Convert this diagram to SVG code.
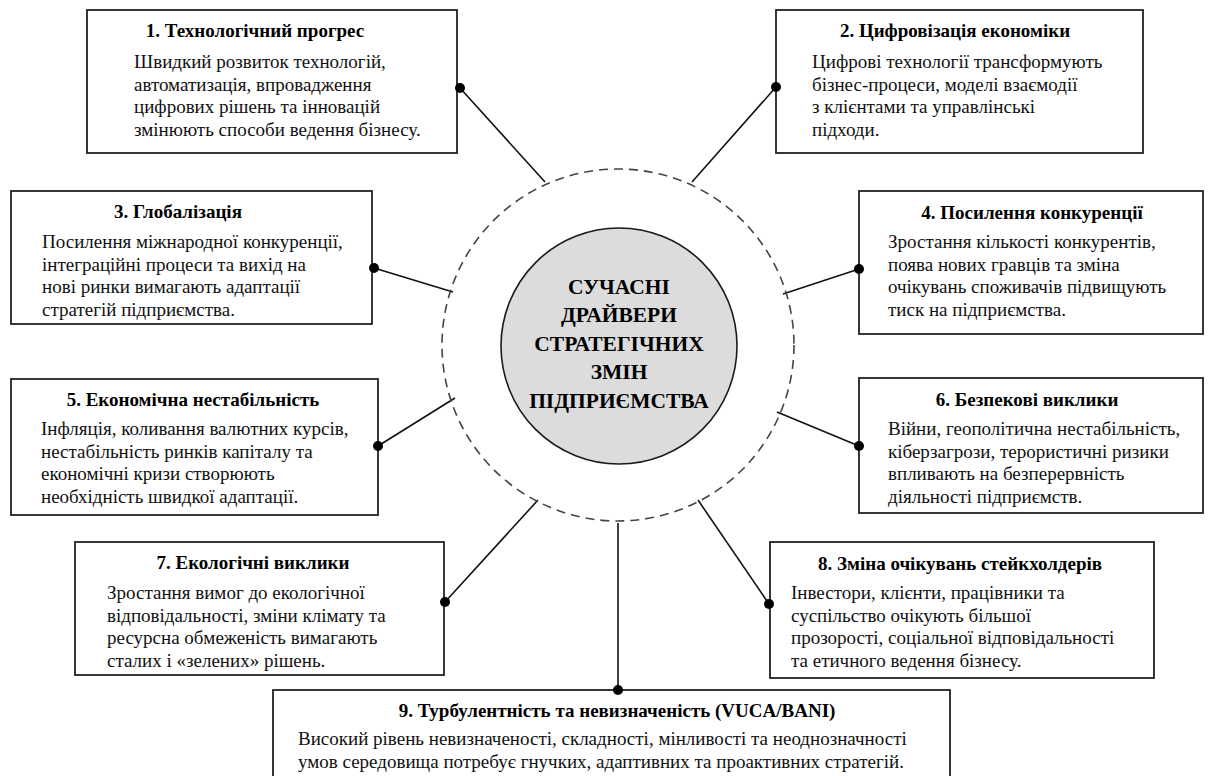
<svg xmlns="http://www.w3.org/2000/svg" width="1214" height="776" viewBox="0 0 1214 776">
<style>
.box{fill:#ffffff;stroke:#222;stroke-width:1.8}
.t{font-family:'Liberation Serif','Times New Roman','DejaVu Serif',serif;font-size:19px;font-weight:bold;fill:#000;text-anchor:middle}
.b{font-family:'Liberation Serif','Times New Roman','DejaVu Serif',serif;font-size:19px;fill:#111}
.c{font-family:'Liberation Serif','Times New Roman','DejaVu Serif',serif;font-size:21.5px;font-weight:bold;fill:#000;text-anchor:middle}
.ln{stroke:#111;stroke-width:1.6;fill:none}
.dot{fill:#000}
</style>
<rect width="1214" height="776" fill="#ffffff"/>
<g id="connectors">
<line class="ln" x1="460" y1="88" x2="545" y2="182"/>
<line class="ln" x1="776" y1="87" x2="692" y2="182"/>
<line class="ln" x1="374" y1="268" x2="453" y2="292"/>
<line class="ln" x1="859" y1="269" x2="783" y2="294"/>
<line class="ln" x1="378" y1="446" x2="455" y2="398"/>
<line class="ln" x1="859" y1="446" x2="777" y2="412"/>
<line class="ln" x1="445" y1="602" x2="538" y2="500"/>
<line class="ln" x1="769" y1="604" x2="698" y2="500"/>
<line class="ln" x1="618" y1="690" x2="618" y2="523"/>
</g>
<g id="center">
<circle cx="618" cy="345" r="176" fill="none" stroke="#444" stroke-width="1.6" stroke-dasharray="9 6"/>
<circle cx="619" cy="346" r="118" fill="#dcdcdc" stroke="#1a1a1a" stroke-width="1.6"/>
<text class="c" x="619" y="294">СУЧАСНІ</text>
<text class="c" x="619" y="322">ДРАЙВЕРИ</text>
<text class="c" x="619" y="351">СТРАТЕГІЧНИХ</text>
<text class="c" x="619" y="379">ЗМІН</text>
<text class="c" x="619" y="408">ПІДПРИЄМСТВА</text>
</g>
<g id="node1">
<rect class="box" x="87" y="10" width="370" height="143"/>
<text class="t" x="255" y="37">1. Технологічний прогрес</text>
<text class="b" x="134" y="68">Швидкий розвиток технологій,</text>
<text class="b" x="134" y="90.5">автоматизація, впровадження</text>
<text class="b" x="134" y="113">цифрових рішень та інновацій</text>
<text class="b" x="134" y="135.5">змінюють способи ведення бізнесу.</text>
<circle class="dot" cx="460" cy="88" r="5"/>
</g>
<g id="node2">
<rect class="box" x="776" y="10" width="367" height="143"/>
<text class="t" x="955" y="37">2. Цифровізація економіки</text>
<text class="b" x="812" y="68">Цифрові технології трансформують</text>
<text class="b" x="812" y="90.5">бізнес-процеси, моделі взаємодії</text>
<text class="b" x="812" y="113">з клієнтами та управлінські</text>
<text class="b" x="812" y="135.5">підходи.</text>
<circle class="dot" cx="776" cy="87" r="5"/>
</g>
<g id="node3">
<rect class="box" x="11" y="191" width="361" height="133"/>
<text class="t" x="178" y="218">3. Глобалізація</text>
<text class="b" x="42" y="248">Посилення міжнародної конкуренції,</text>
<text class="b" x="42" y="270.5">інтеграційні процеси та вихід на</text>
<text class="b" x="42" y="293">нові ринки вимагають адаптації</text>
<text class="b" x="42" y="315.5">стратегій підприємства.</text>
<circle class="dot" cx="374" cy="268" r="5"/>
</g>
<g id="node4">
<rect class="box" x="859" y="191" width="344" height="143"/>
<text class="t" x="1032" y="219">4. Посилення конкуренції</text>
<text class="b" x="888" y="248">Зростання кількості конкурентів,</text>
<text class="b" x="888" y="270.5">поява нових гравців та зміна</text>
<text class="b" x="888" y="293">очікувань споживачів підвищують</text>
<text class="b" x="888" y="315.5">тиск на підприємства.</text>
<circle class="dot" cx="859" cy="269" r="5"/>
</g>
<g id="node5">
<rect class="box" x="11" y="379" width="367" height="136"/>
<text class="t" x="193" y="406">5. Економічна нестабільність</text>
<text class="b" x="41" y="435">Інфляція, коливання валютних курсів,</text>
<text class="b" x="41" y="457.5">нестабільність ринків капіталу та</text>
<text class="b" x="41" y="480">економічні кризи створюють</text>
<text class="b" x="41" y="502.5">необхідність швидкої адаптації.</text>
<circle class="dot" cx="378" cy="446" r="5"/>
</g>
<g id="node6">
<rect class="box" x="859" y="378" width="344" height="135"/>
<text class="t" x="1027" y="406">6. Безпекові виклики</text>
<text class="b" x="888" y="435">Війни, геополітична нестабільність,</text>
<text class="b" x="888" y="457.5">кіберзагрози, терористичні ризики</text>
<text class="b" x="888" y="480">впливають на безперервність</text>
<text class="b" x="888" y="502.5">діяльності підприємств.</text>
<circle class="dot" cx="859" cy="446" r="5"/>
</g>
<g id="node7">
<rect class="box" x="75" y="542" width="369" height="133"/>
<text class="t" x="253" y="569">7. Екологічні виклики</text>
<text class="b" x="107" y="599">Зростання вимог до екологічної</text>
<text class="b" x="107" y="621.5">відповідальності, зміни клімату та</text>
<text class="b" x="107" y="644">ресурсна обмеженість вимагають</text>
<text class="b" x="107" y="666.5">сталих і «зелених» рішень.</text>
<circle class="dot" cx="445" cy="602" r="5"/>
</g>
<g id="node8">
<rect class="box" x="770" y="542" width="384" height="136"/>
<text class="t" x="960" y="570">8. Зміна очікувань стейкхолдерів</text>
<text class="b" x="791" y="599">Інвестори, клієнти, працівники та</text>
<text class="b" x="791" y="621.5">суспільство очікують більшої</text>
<text class="b" x="791" y="644">прозорості, соціальної відповідальності</text>
<text class="b" x="791" y="666.5">та етичного ведення бізнесу.</text>
<circle class="dot" cx="769" cy="604" r="5"/>
</g>
<g id="node9">
<rect class="box" x="273" y="690" width="677" height="100"/>
<text class="t" x="617" y="717">9. Турбулентність та невизначеність (VUCA/BANI)</text>
<text class="b" x="298" y="745">Високий рівень невизначеності, складності, мінливості та неоднозначності</text>
<text class="b" x="298" y="768">умов середовища потребує гнучких, адаптивних та проактивних стратегій.</text>
<circle class="dot" cx="618" cy="690" r="5"/>
</g>
</svg>
